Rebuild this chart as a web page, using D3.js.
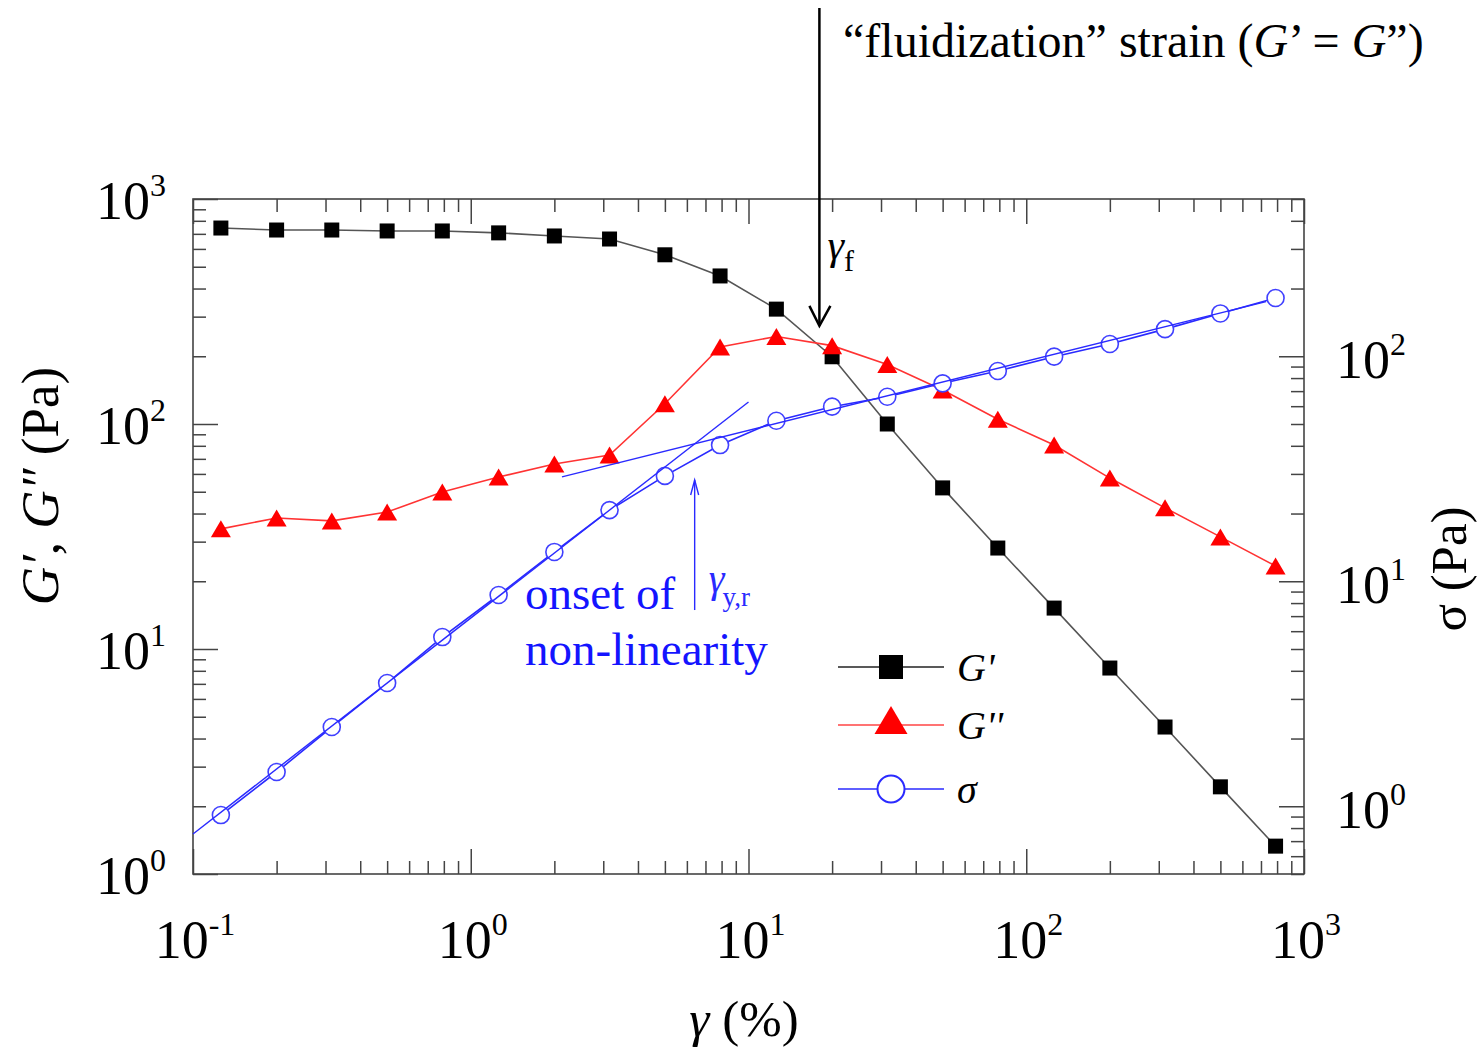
<!DOCTYPE html>
<html>
<head>
<meta charset="utf-8">
<script src="https://cdn.jsdelivr.net/npm/d3@7"></script>
<style>
  body { margin: 0; background: #fff; }
  svg { display: block; }
  text { font-family: "Liberation Serif", "Times New Roman", serif; }
</style>
</head>
<body>
<svg id="chart" width="1482" height="1047"></svg>
<script>
// Strain sweep: storage / loss moduli and stress amplitude
const strain = [0.126, 0.2, 0.316, 0.5, 0.79, 1.26, 2, 3.16, 5, 7.9, 12.6, 20, 31.6, 50, 79, 126, 200, 316, 500, 790];
const storageModulus = [743, 728, 728, 721, 721, 707, 685, 664, 565, 455, 324, 199, 100, 52, 28.1, 15.2, 8.23, 4.5, 2.44, 1.33];
const lossModulus = [34.2, 38.2, 37.1, 40.6, 49.9, 58.1, 66.4, 72.8, 123, 220, 245, 223, 184, 141.6, 105, 80.7, 57.5, 42.4, 31.5, 23.4];
const stress = [0.914, 1.42, 2.25, 3.53, 5.65, 8.69, 13.5, 20.7, 29.4, 40.3, 51.7, 59.7, 66.1, 75.8, 86, 99.6, 113.4, 132, 155, 181.5];

// Power-law guides for sigma (strain %, Pa)
const linearFitStrain = [0.1, 10];
const linearFitStress = [0.753, 62.6];
const powerFitStrain = [2.13, 730];
const powerFitStress = [29.1, 175];

// Characteristic strains
const fluidizationStrain = 18;      // gamma_f
const fluidizationTipModulus = 273; // arrow tip on the modulus axis
const yieldStrain = 6.4;            // gamma_y,r
const yieldArrowStress = [7.45, 28.2];

// Tick label exponents
const xExponents = [-1, 0, 1, 2, 3];
const leftExponents = [0, 1, 2, 3];
const rightExponents = [0, 1, 2];

const svg = d3.select('#chart');
const L = 193, R = 1304, T = 199, B = 874;

const x = d3.scaleLog().domain([0.1, 1000]).range([L, R]);
const yL = d3.scaleLog().domain([1, 1000]).range([B, T]);
const yR = d3.scaleLog().domain([0.5, 500]).range([B, T]);

const isMajor = v => Math.abs(Math.log10(v) - Math.round(Math.log10(v))) < 1e-6;
const majors = s => s.ticks().filter(isMajor);
const minors = s => s.ticks().filter(v => !isMajor(v));

const axisColor = '#444';
const MAJ = 25, MIN = 13;

function ticks(axisFn, scale, values, size, transform) {
  const g = svg.append('g').attr('transform', transform)
    .call(axisFn(scale).tickValues(values).tickSizeInner(-size).tickSizeOuter(0).tickFormat(''));
  g.select('.domain').remove();
  g.selectAll('line').attr('stroke', axisColor).attr('stroke-width', 1.5);
}
ticks(d3.axisBottom, x, majors(x), MAJ, `translate(0,${B})`);
ticks(d3.axisBottom, x, minors(x), MIN, `translate(0,${B})`);
ticks(d3.axisTop, x, majors(x), MAJ, `translate(0,${T})`);
ticks(d3.axisTop, x, minors(x), MIN, `translate(0,${T})`);
ticks(d3.axisLeft, yL, majors(yL), MAJ, `translate(${L},0)`);
ticks(d3.axisLeft, yL, minors(yL), MIN, `translate(${L},0)`);
ticks(d3.axisRight, yR, majors(yR), MAJ, `translate(${R},0)`);
ticks(d3.axisRight, yR, minors(yR), MIN, `translate(${R},0)`);

svg.append('rect').attr('x', L).attr('y', T).attr('width', R - L).attr('height', B - T)
  .attr('fill', 'none').attr('stroke', axisColor).attr('stroke-width', 1.6);

// Tick labels as 10^n
function powerLabel(sel, n) {
  sel.append('tspan').attr('font-size', 54).text('10');
  sel.append('tspan').attr('font-size', 32).attr('dy', -23).text(n < 0 ? '-' + (-n) : String(n));
}
svg.append('g').selectAll('text').data(xExponents).join('text')
  .attr('x', d => x(Math.pow(10, d)) + 2).attr('y', 958).attr('text-anchor', 'middle')
  .each(function (d) { powerLabel(d3.select(this), d); });
svg.append('g').selectAll('text').data(leftExponents).join('text')
  .attr('x', 166).attr('y', d => yL(Math.pow(10, d)) + 20).attr('text-anchor', 'end')
  .each(function (d) { powerLabel(d3.select(this), d); });
svg.append('g').selectAll('text').data(rightExponents).join('text')
  .attr('x', 1336).attr('y', d => yR(Math.pow(10, d)) + 22).attr('text-anchor', 'start')
  .each(function (d) { powerLabel(d3.select(this), d); });

// Axis titles
const xt = svg.append('text').attr('x', 744).attr('y', 1036).attr('text-anchor', 'middle').attr('font-size', 51);
xt.append('tspan').attr('font-style', 'italic').text('γ');
xt.append('tspan').text(' (%)');

const ylt = svg.append('text').attr('transform', 'translate(58,486) rotate(-90)')
  .attr('text-anchor', 'middle').attr('font-size', 53);
ylt.append('tspan').attr('font-style', 'italic').text('G′');
ylt.append('tspan').text(', ');
ylt.append('tspan').attr('font-style', 'italic').text('G″');
ylt.append('tspan').text(' (Pa)');

svg.append('text').attr('transform', 'translate(1466,569) rotate(-90)')
  .attr('text-anchor', 'middle').attr('font-size', 51).text('σ (Pa)');

// Series
const rows = strain.map((s, i) => ({ s, gp: storageModulus[i], gpp: lossModulus[i], sig: stress[i] }));
const black = '#000', red = '#ff0000', blue = '#2a2aff';

svg.append('path').datum(rows)
  .attr('d', d3.line().x(d => x(d.s)).y(d => yL(d.gp)))
  .attr('fill', 'none').attr('stroke', '#555').attr('stroke-width', 1.6);
svg.append('path').datum(rows)
  .attr('d', d3.line().x(d => x(d.s)).y(d => yL(d.gpp)))
  .attr('fill', 'none').attr('stroke', '#ff3333').attr('stroke-width', 1.6);
svg.append('path').datum(rows)
  .attr('d', d3.line().x(d => x(d.s)).y(d => yR(d.sig)))
  .attr('fill', 'none').attr('stroke', blue).attr('stroke-width', 1.6);

function triPath(w, h) {
  return `M0,${-h / 2}L${w / 2},${h / 2}L${-w / 2},${h / 2}Z`;
}

svg.append('g').selectAll('rect').data(rows).join('rect')
  .attr('x', d => x(d.s) - 7.5).attr('y', d => yL(d.gp) - 7.5)
  .attr('width', 15).attr('height', 15).attr('fill', black);

svg.append('g').selectAll('path').data(rows).join('path')
  .attr('transform', d => `translate(${x(d.s)},${yL(d.gpp)})`)
  .attr('d', triPath(20, 17)).attr('fill', red);

svg.append('g').selectAll('circle').data(rows).join('circle')
  .attr('cx', d => x(d.s)).attr('cy', d => yR(d.sig)).attr('r', 8.5)
  .attr('fill', '#fff').attr('stroke', '#4040ff').attr('stroke-width', 1.6);

// Guide lines for the stress curve
const fitLine = d3.line().x(d => x(d[0])).y(d => yR(d[1]));
svg.append('path').datum(d3.zip(linearFitStrain, linearFitStress)).attr('d', fitLine)
  .attr('fill', 'none').attr('stroke', blue).attr('stroke-width', 1.4);
svg.append('path').datum(d3.zip(powerFitStrain, powerFitStress)).attr('d', fitLine)
  .attr('fill', 'none').attr('stroke', blue).attr('stroke-width', 1.4);

// Fluidization arrow (G' = G'')
const fx = x(fluidizationStrain), fTip = yL(fluidizationTipModulus);
svg.append('line').attr('x1', fx).attr('x2', fx).attr('y1', 8).attr('y2', fTip)
  .attr('stroke', '#000').attr('stroke-width', 2.5);
svg.append('path').attr('d', `M${fx - 10},${fTip - 20}L${fx},${fTip}L${fx + 11},${fTip - 20}`)
  .attr('fill', 'none').attr('stroke', '#000').attr('stroke-width', 2.5);

const topLabel = svg.append('text').attr('x', 843).attr('y', 57).attr('font-size', 48);
topLabel.append('tspan').text('“fluidization” strain (');
topLabel.append('tspan').attr('font-style', 'italic').text('G');
topLabel.append('tspan').text('’ = ');
topLabel.append('tspan').attr('font-style', 'italic').text('G');
topLabel.append('tspan').text('”)');

const gf = svg.append('text').attr('x', fx + 8).attr('y', 259).attr('font-size', 42);
gf.append('tspan').attr('font-style', 'italic').text('γ');
gf.append('tspan').attr('font-size', 30).attr('dy', 12).text('f');

// Onset of non-linearity arrow
const yx = x(yieldStrain);
const yBot = yR(yieldArrowStress[0]), yTop = yR(yieldArrowStress[1]);
svg.append('line').attr('x1', yx).attr('x2', yx).attr('y1', yBot).attr('y2', yTop)
  .attr('stroke', blue).attr('stroke-width', 1.4);
svg.append('path').attr('d', `M${yx - 4},${yTop + 15}L${yx},${yTop}L${yx + 4},${yTop + 15}`)
  .attr('fill', 'none').attr('stroke', blue).attr('stroke-width', 1.4);

const gy = svg.append('text').attr('x', yx + 14).attr('y', 592).attr('font-size', 40).attr('fill', blue);
gy.append('tspan').attr('font-style', 'italic').text('γ');
gy.append('tspan').attr('font-size', 27).attr('dy', 14).attr('dx', -2).text('y,r');

svg.append('text').attr('x', 525).attr('y', 609).attr('font-size', 47).attr('fill', '#1414ff').text('onset of');
svg.append('text').attr('x', 525).attr('y', 665).attr('font-size', 47).attr('fill', '#1414ff').text('non-linearity');

// Legend
const legendItems = [
  { label: "G'", y: 667, kind: 'square', color: black, line: '#222' },
  { label: "G''", y: 725, kind: 'triangle', color: red, line: '#ff4444' },
  { label: 'σ', y: 789, kind: 'circle', color: blue, line: blue }
];
const lg = svg.append('g');
legendItems.forEach(it => {
  lg.append('line').attr('x1', 838).attr('x2', 944).attr('y1', it.y).attr('y2', it.y)
    .attr('stroke', it.line).attr('stroke-width', 1.6);
  if (it.kind === 'square') {
    lg.append('rect').attr('x', 891 - 12).attr('y', it.y - 12).attr('width', 24).attr('height', 24).attr('fill', it.color);
  } else if (it.kind === 'triangle') {
    lg.append('path').attr('transform', `translate(891,${it.y - 5})`).attr('d', triPath(33, 28)).attr('fill', it.color);
  } else {
    lg.append('circle').attr('cx', 891).attr('cy', it.y).attr('r', 13.5)
      .attr('fill', '#fff').attr('stroke', it.color).attr('stroke-width', 2);
  }
  lg.append('text').attr('x', 957).attr('y', it.y + 14).attr('font-size', 40)
    .attr('font-style', 'italic').text(it.label);
});
</script>
</body>
</html>
